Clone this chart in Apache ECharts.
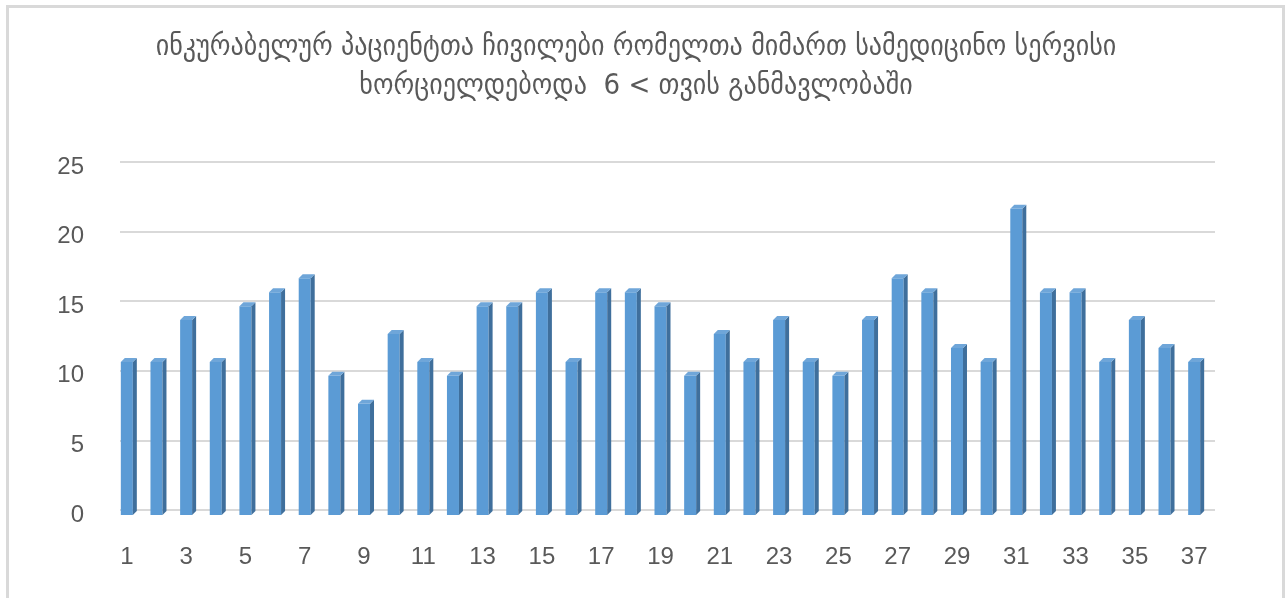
<!DOCTYPE html>
<html>
<head>
<meta charset="utf-8">
<script src="https://cdn.jsdelivr.net/npm/echarts@6/dist/echarts.min.js"></script>
<style>
html,body{margin:0;padding:0;background:#fff;}
#chart{width:1285px;height:598px;}
</style>
</head>
<body>
<div id="chart"></div>
<script>
const titleText = 'ინკურაბელურ პაციენტთა ჩივილები რომელთა მიმართ სამედიცინო სერვისი\nხორციელდებოდა  6 < თვის განმავლობაში';
const categories = ['1','2','3','4','5','6','7','8','9','10','11','12','13','14','15','16','17','18','19','20','21','22','23','24','25','26','27','28','29','30','31','32','33','34','35','36','37'];
const values = [11,11,14,11,15,16,17,10,8,13,11,10,15,15,16,11,16,16,15,10,13,11,14,11,10,14,17,16,12,11,22,16,16,11,14,12,11];
const yTicks = [0,5,10,15,20,25];

const chart = echarts.init(document.getElementById('chart'), null, {renderer:'canvas'});

function renderBar(params, api){
  const c = api.coord([api.value(0), api.value(1)]);
  const b = api.coord([api.value(0), 0]);
  const x = c[0], top = c[1], base = b[1];
  const hw = 6, d = 4;
  return {
    type:'group',
    children:[
      {type:'rect', shape:{x:x-hw, y:top, width:hw*2, height:base-top}, style:{fill:'#5b9bd5'}},
      {type:'polygon', shape:{points:[[x+hw,top],[x+hw+d,top-d],[x+hw+d,base-d],[x+hw,base]]}, style:{fill:'#3f6f9c'}},
      {type:'polygon', shape:{points:[[x-hw,top],[x-hw+d,top-d],[x+hw+d,top-d],[x+hw,top]]}, style:{fill:'#6fa6d9'}}
    ]
  };
}

chart.setOption({
  animation:false,
  backgroundColor:'#ffffff',
  graphic:[{type:'rect', left:5, top:4, shape:{width:1276, height:620}, style:{fill:'none', stroke:'#d9d9d9', lineWidth:3}, z:-10}],
  title:{
    text:titleText,
    left:631, top:23, textAlign:'center',
    textStyle:{fontFamily:'DejaVu Sans Condensed', fontSize:29, fontWeight:'normal', color:'#595959', lineHeight:39}
  },
  grid:[
    {left:112, right:76, top:167, bottom:83},
    {left:120, right:70, top:162, bottom:88}
  ],
  xAxis:[
    {type:'category', gridIndex:0, data:categories,
     axisLine:{show:false}, axisTick:{show:false},
     axisLabel:{interval:1, color:'#595959', fontSize:24, fontFamily:'Liberation Sans', margin:30}},
    {type:'category', gridIndex:1, data:categories, show:false}
  ],
  yAxis:[
    {type:'value', gridIndex:0, min:0, max:25, interval:5,
     axisLine:{show:false}, axisTick:{show:false}, splitLine:{show:false},
     axisLabel:{color:'#595959', fontSize:24, fontFamily:'Liberation Sans', margin:28}},
    {type:'value', gridIndex:1, min:0, max:25, interval:5,
     axisLine:{show:false}, axisTick:{show:false}, axisLabel:{show:false},
     splitLine:{show:true, lineStyle:{color:'#d9d9d9', width:2}}}
  ],
  series:[{
    type:'custom', xAxisIndex:0, yAxisIndex:0,
    renderItem:renderBar,
    data:values.map((v,i)=>[i,v]),
    encode:{x:0,y:1}
  }]
});
</script>
</body>
</html>
